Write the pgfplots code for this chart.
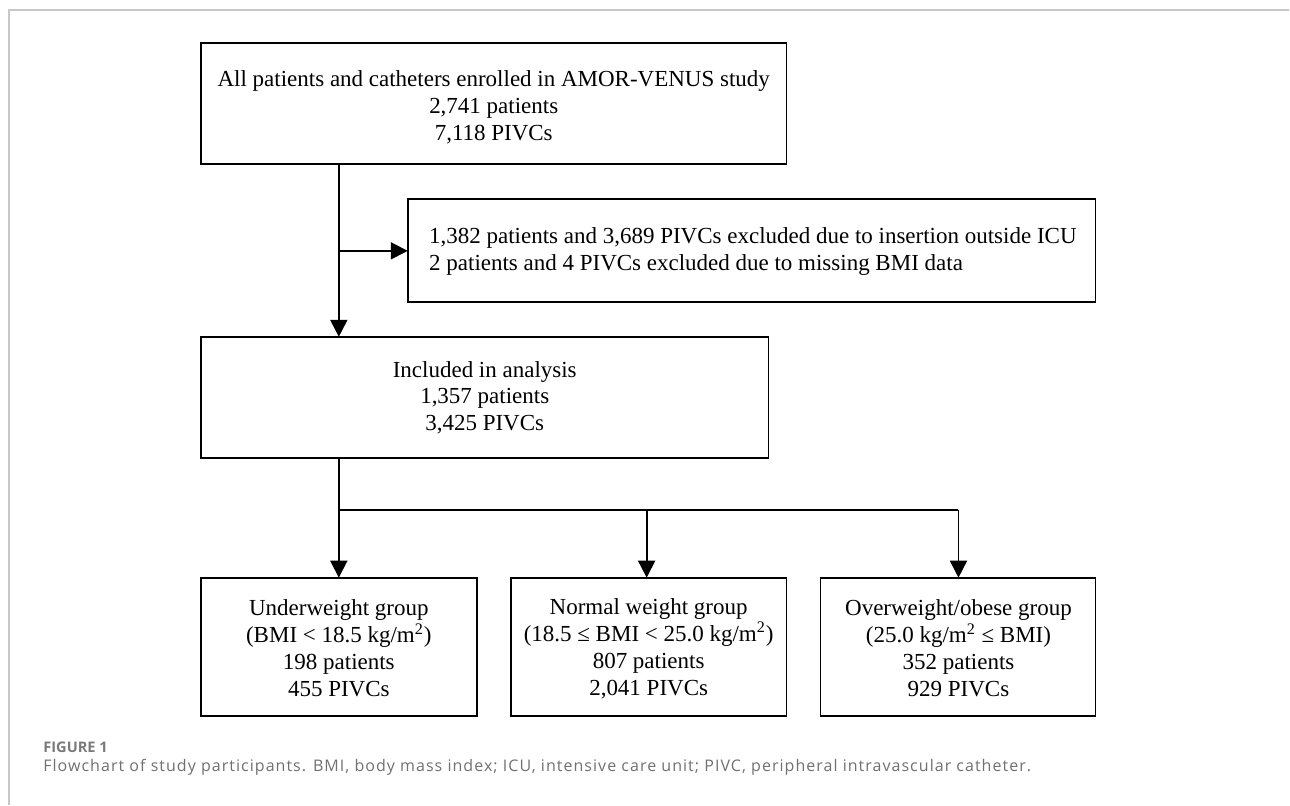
\documentclass[border=0pt]{standalone}
\usepackage{fontspec}
\setmainfont{Liberation Serif}
\newfontfamily\capfont[LetterSpace=6.5]{Open Sans}
\newfontfamily\figfont{Open Sans}
\usepackage{pgfplots}
\pgfplotsset{compat=1.18}
\usetikzlibrary{arrows.meta}
\definecolor{framegray}{HTML}{C8C8C8}
\definecolor{capgray}{HTML}{707070}
\definecolor{figgray}{HTML}{7A7A7A}
\begin{document}
\begin{tikzpicture}
\begin{axis}[
  width=645pt, height=402.5pt, scale only axis,
  xmin=0, xmax=1290, ymin=0, ymax=805, y dir=reverse,
  hide axis, clip=false,
  every axis plot/.append style={line width=0.9pt, black, mark=none, line join=miter, solid},
]
\path (axis cs:0,0) rectangle (axis cs:1290,805);
% page frame
\addplot[framegray, line width=0.7pt] coordinates {(9,805) (9,10) (1290,10)};
% boxes
\addplot[black, line cap=rect] coordinates {(201,43) (787,43) (787,164) (201,164) (201,43)};
\addplot[black, line cap=rect] coordinates {(408,199) (1096,199) (1096,302) (408,302) (408,199)};
\addplot[black, line cap=rect] coordinates {(201,337) (769,337) (769,458) (201,458) (201,337)};
\addplot[black, line cap=rect] coordinates {(201,578) (477,578) (477,716) (201,716) (201,578)};
\addplot[black, line cap=rect] coordinates {(511,578) (787,578) (787,716) (511,716) (511,578)};
\addplot[black, line cap=rect] coordinates {(821,578) (1096,578) (1096,716) (821,716) (821,578)};
% connectors
\addplot[black, -{Triangle[length=8.5pt,width=8.5pt]}] coordinates {(339,164) (339,337)};
\addplot[black, -{Triangle[length=8.5pt,width=8.5pt]}] coordinates {(339,251) (408,251)};
\addplot[black] coordinates {(339,458) (339,510) (959,510)};
\addplot[black, -{Triangle[length=8.5pt,width=8.5pt]}] coordinates {(339,510) (339,578)};
\addplot[black, -{Triangle[length=8.5pt,width=8.5pt]}] coordinates {(647,510) (647,578)};
\addplot[black, -{Triangle[length=8.5pt,width=8.5pt]}] coordinates {(959,510) (959,578)};
% texts
\tikzset{bt/.style={align=center, inner sep=0pt, font=\fontsize{11.5}{13.5}\selectfont}}
\node[bt] at (axis cs:494,107) {All patients and catheters enrolled in AMOR-VENUS study\\2,741 patients\\7,118 PIVCs};
\node[bt, align=left, anchor=west] at (axis cs:429,252) {1,382 patients and 3,689 PIVCs excluded due to insertion outside ICU\\2 patients and 4 PIVCs excluded due to missing BMI data};
\node[bt] at (axis cs:485,398) {Included in analysis\\1,357 patients\\3,425 PIVCs};
\node[bt] at (axis cs:339,649) {Underweight group\\(BMI < 18.5 kg/m\textsuperscript{2})\\198 patients\\455 PIVCs};
\node[bt] at (axis cs:649,649) {Normal weight group\\(18.5 ≤ BMI < 25.0 kg/m\textsuperscript{2})\\807 patients\\2,041 PIVCs};
\node[bt] at (axis cs:959,649) {Overweight/obese group\\(25.0 kg/m\textsuperscript{2} ≤ BMI)\\352 patients\\929 PIVCs};
% caption
\node[anchor=base west, inner sep=0pt, text=figgray, font=\figfont\bfseries\fontsize{7.3}{8}\selectfont] at (axis cs:43,753) {FIGURE 1};
\node[anchor=base west, inner sep=0pt, text=capgray, font=\capfont\fontsize{8}{9}\selectfont] at (axis cs:43,772) {Flowchart of study participants. BMI, body mass index; ICU, intensive care unit; PIVC, peripheral intravascular catheter.};
\end{axis}
\end{tikzpicture}
\end{document}
